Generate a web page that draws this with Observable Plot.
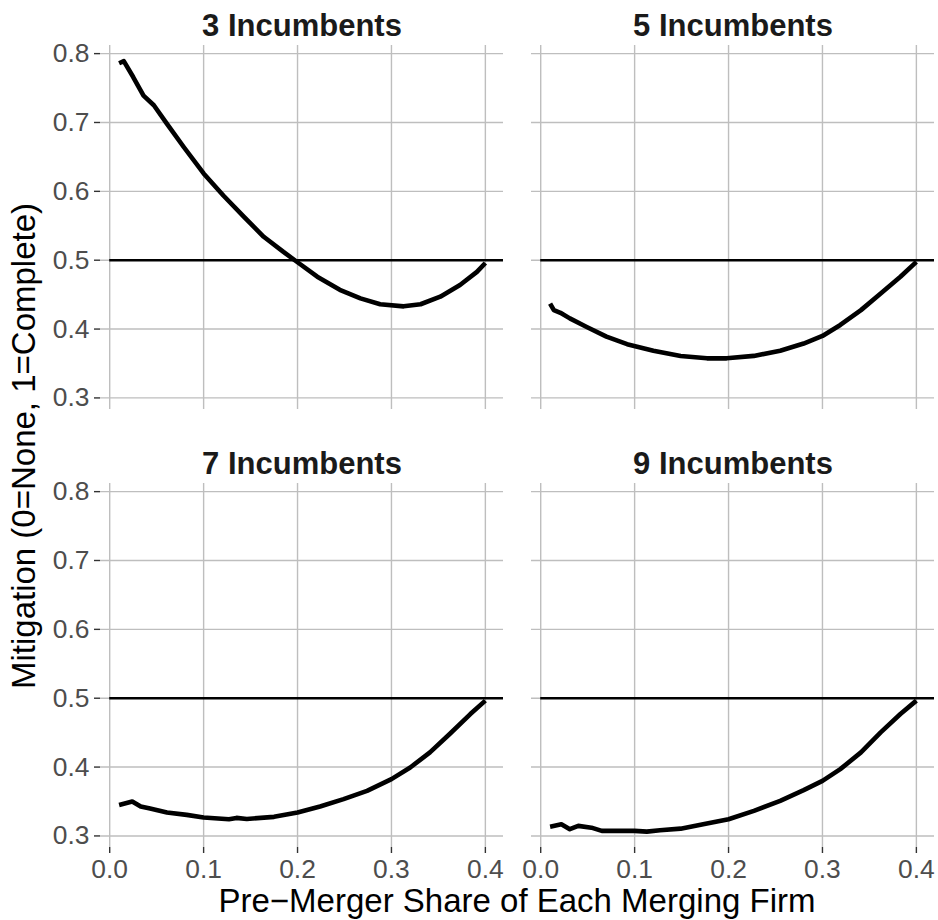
<!DOCTYPE html>
<html>
<head>
<meta charset="utf-8">
<script src="https://cdn.jsdelivr.net/npm/d3@7"></script>
<script src="https://cdn.jsdelivr.net/npm/@observablehq/plot@0.6"></script>
<style>
  html, body { margin: 0; padding: 0; background: #ffffff; }
</style>
</head>
<body>
<div id="chart"></div>
<script>
// ---- Data ----
const panelLabels = ["3 Incumbents", "5 Incumbents", "7 Incumbents", "9 Incumbents"];
const panelCols = [0, 1, 0, 1];
const panelRows = [0, 0, 1, 1];

const share3 = [0.01, 0.015, 0.025, 0.036, 0.047, 0.061, 0.079, 0.1, 0.121, 0.143, 0.164, 0.185, 0.2, 0.221, 0.245, 0.267, 0.288, 0.313, 0.331, 0.352, 0.373, 0.391, 0.4];
const mitig3 = [0.786, 0.789, 0.766, 0.739, 0.725, 0.698, 0.664, 0.626, 0.594, 0.563, 0.534, 0.512, 0.497, 0.476, 0.457, 0.4445, 0.436, 0.433, 0.436, 0.447, 0.464, 0.483, 0.496];

const share5 = [0.01, 0.014, 0.021, 0.031, 0.049, 0.07, 0.092, 0.12, 0.149, 0.177, 0.198, 0.227, 0.255, 0.28, 0.3, 0.319, 0.341, 0.362, 0.383, 0.4];
const mitig5 = [0.437, 0.4275, 0.4236, 0.4155, 0.403, 0.389, 0.378, 0.3686, 0.361, 0.3575, 0.3575, 0.361, 0.3686, 0.379, 0.39, 0.406, 0.4275, 0.4517, 0.476, 0.4976];

const share7 = [0.01, 0.024, 0.033, 0.043, 0.061, 0.082, 0.1, 0.127, 0.135, 0.146, 0.175, 0.2, 0.224, 0.249, 0.274, 0.3, 0.32, 0.341, 0.362, 0.384, 0.4];
const mitig7 = [0.345, 0.350, 0.3427, 0.3397, 0.334, 0.3306, 0.3267, 0.3243, 0.3262, 0.3247, 0.3277, 0.334, 0.3427, 0.3534, 0.3655, 0.3825, 0.3994, 0.4213, 0.448, 0.477, 0.4965];

const share9 = [0.01, 0.022, 0.031, 0.04, 0.054, 0.065, 0.084, 0.1, 0.113, 0.127, 0.149, 0.173, 0.2, 0.227, 0.255, 0.28, 0.3, 0.319, 0.341, 0.362, 0.383, 0.4];
const mitig9 = [0.3135, 0.317, 0.3098, 0.3146, 0.312, 0.3073, 0.3073, 0.3073, 0.3063, 0.3083, 0.3106, 0.317, 0.3243, 0.3364, 0.351, 0.3665, 0.38, 0.397, 0.4213, 0.4504, 0.477, 0.4965];

const referenceLevel = 0.5;
const xTicks = [0, 0.1, 0.2, 0.3, 0.4];
const yTicks = [0.3, 0.4, 0.5, 0.6, 0.7, 0.8];
const xTitle = "Pre\u2212Merger Share of Each Merging Firm";
const yTitle = "Mitigation (0=None, 1=Complete)";

// ---- Build tidy table ----
const seriesX = [share3, share5, share7, share9];
const seriesY = [mitig3, mitig5, mitig7, mitig9];
const rows = [];
seriesX.forEach((xs, i) => {
  xs.forEach((x, j) => rows.push({panel: panelLabels[i], col: panelCols[i], row: panelRows[i], x, y: seriesY[i][j]}));
});
const titles = panelLabels.map((label, i) => ({label, col: panelCols[i], row: panelRows[i]}));

const FONT = "'Liberation Sans', Arial, Helvetica, sans-serif";
const gridColor = "#bebebe";

const chart = Plot.plot({
  width: 938,
  height: 920,
  marginLeft: 100,
  marginRight: 4,
  marginTop: 45,
  marginBottom: 73,
  style: {fontFamily: FONT, background: "#ffffff", overflow: "visible"},
  fx: {axis: null, domain: [0, 1], paddingInner: 0.065, paddingOuter: 0, round: false},
  fy: {axis: null, domain: [0, 1], paddingInner: 0.169, paddingOuter: 0, round: false},
  x: {domain: [-0.0098, 0.4193], axis: null},
  y: {domain: [0.2832, 0.8118], axis: null},
  marks: [
    Plot.gridX(xTicks, {stroke: gridColor, strokeOpacity: 1, strokeWidth: 1.4}),
    Plot.gridY(yTicks, {stroke: gridColor, strokeOpacity: 1, strokeWidth: 1.4}),
    Plot.axisX(xTicks, {
      facetAnchor: "bottom", anchor: "bottom",
      tickFormat: d3.format(".1f"), tickSize: 6, tickPadding: 6,
      fontSize: 26.4, stroke: "#333333", strokeWidth: 1.4, fill: "#4d4d4d", label: null
    }),
    Plot.axisY(yTicks, {
      facetAnchor: "left", anchor: "left",
      tickFormat: d3.format(".1f"), tickSize: 6, tickPadding: 5,
      fontSize: 26.4, stroke: "#333333", strokeWidth: 1.4, fill: "#4d4d4d", label: null
    }),
    Plot.ruleY([referenceLevel], {x1: 0, x2: 0.4193, stroke: "#000000", strokeWidth: 2.6}),
    Plot.line(rows, {
      x: "x", y: "y", fx: "col", fy: "row", z: "panel",
      stroke: "#000000", strokeWidth: 4.6, strokeLinejoin: "round", strokeLinecap: "butt"
    }),
    Plot.text(titles, {
      fx: "col", fy: "row", text: "label",
      frameAnchor: "top", lineAnchor: "bottom", dy: -10,
      fontSize: 31, fontWeight: "bold", fill: "#1a1a1a"
    })
  ]
});

document.getElementById("chart").appendChild(chart);

// Axis titles
const svg = d3.select(chart);
svg.append("text")
  .attr("x", 517).attr("y", 912)
  .attr("text-anchor", "middle")
  .attr("font-family", FONT).attr("font-size", 33).attr("fill", "#000000")
  .text(xTitle);
svg.append("text")
  .attr("transform", "translate(35,446) rotate(-90)")
  .attr("text-anchor", "middle")
  .attr("font-family", FONT).attr("font-size", 33).attr("fill", "#000000")
  .text(yTitle);
</script>
</body>
</html>
